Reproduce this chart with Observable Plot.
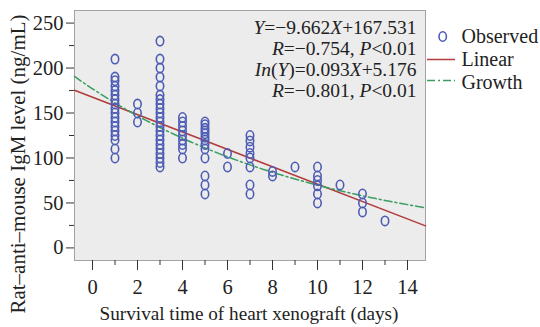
<!DOCTYPE html>
<html><head><meta charset="utf-8">
<script src="https://cdn.jsdelivr.net/npm/d3@7"></script>
<script src="https://cdn.jsdelivr.net/npm/@observablehq/plot@0.6"></script>
<style>body{margin:0;background:#fff} #chart svg{display:block}</style>
</head><body><div id="chart"></div>
<script>
// ---- data ----
const survivalDays = [1,2,3,4,5,6,7,8,9,10,11,12,13];
const igmByDay = [
  [210,190,186,180,175,170,165,160,155,150,145,140,135,130,125,120,110,100],
  [160,150,140],
  [230,210,200,190,180,170,165,160,155,150,145,140,135,130,125,120,115,110,105,100,95,90],
  [145,140,135,130,125,120,115,110,100],
  [140,137,133,130,127,123,120,115,110,100,80,70,60],
  [105,90],
  [125,119,112,105,100,90,70,60],
  [85,80],
  [90],
  [90,80,75,69,60,50],
  [70],
  [60,50,40],
  [30]
];
const linearCoef = [-9.662, 167.531];   // Y = a X + b
const growthCoef = [-0.093, 5.176];     // ln(Y) = a X + b
const xTicks = [0,2,4,6,8,10,12,14];
const xMinorTicks = [1,3,5,7,9,11,13];
const yTicks = [0,50,100,150,200,250];
const yMinorTicks = [25,75,125,175,225];
const xDomain = [-0.8, 14.8];
const yDomain = [-14, 264];
const xLabel = "Survival time of heart xenograft (days)";
const yLabel = "Rat\u2013anti\u2013mouse IgM level (ng/mL)";
const legendLabels = ["Observed", "Linear", "Growth"];
const annotationLines = [
  [["Y",1],["=\u22129.662",0],["X",1],["+167.531",0]],
  [["R",1],["=\u22120.754, ",0],["P",1],["<0.01",0]],
  [["In",1],["(",0],["Y",1],[")=0.093",0],["X",1],["+5.176",0]],
  [["R",1],["=\u22120.801, ",0],["P",1],["<0.01",0]]
];

// ---- derived tables ----
const observed = survivalDays.flatMap((d, i) => igmByDay[i].map(v => ({day: d, igm: v})));
const linearLine = xDomain.map(x => ({x, y: linearCoef[0] * x + linearCoef[1]}));
const growthXs = d3.range(xDomain[0], xDomain[1] + 1e-9, 0.2);
const growthLine = growthXs.map(x => ({x, y: Math.exp(growthCoef[0] * x + growthCoef[1])}));

const BLUE = "#4d5cb4", RED = "#b23b3b", GREEN = "#3a9e60";
const FONT = "'Liberation Serif', 'Times New Roman', serif";
const K = 0.5523;
function ellipsePath(ctx, rx, ry) {
  ctx.moveTo(0, -ry);
  ctx.bezierCurveTo(K*rx, -ry, rx, -K*ry, rx, 0);
  ctx.bezierCurveTo(rx, K*ry, K*rx, ry, 0, ry);
  ctx.bezierCurveTo(-K*rx, ry, -rx, K*ry, -rx, 0);
  ctx.bezierCurveTo(-rx, -K*ry, -K*rx, -ry, 0, -ry);
  ctx.closePath();
}
const ovalSymbol = {draw(ctx) { ellipsePath(ctx, 3.7, 4.7); }};

const plot = Plot.plot({
  width: 540, height: 327,
  marginLeft: 74, marginRight: 115, marginTop: 10, marginBottom: 67,
  style: {fontFamily: FONT, fontSize: "20.5px", color: "#222", background: "#fff"},
  x: {domain: xDomain, label: null},
  y: {domain: yDomain, label: null},
  marks: [
    Plot.frame({fill: "#ececec", stroke: "#a3a3a3", strokeWidth: 1}),
    Plot.axisY(yMinorTicks, {tickSize: 5, tickFormat: () => "", stroke: "#333"}),
    Plot.axisY(yTicks, {tickSize: 8, tickPadding: 3, stroke: "#333", fill: "#222"}),
    Plot.axisX(xMinorTicks, {tickSize: 5, tickFormat: () => "", stroke: "#333"}),
    Plot.axisX(xTicks, {tickSize: 10, tickPadding: 9, stroke: "#333", fill: "#222"}),
    Plot.line(linearLine, {x: "x", y: "y", stroke: RED, strokeWidth: 1.5}),
    Plot.line(growthLine, {x: "x", y: "y", stroke: GREEN, strokeWidth: 1.5, strokeDasharray: "8,3,2,3"}),
    Plot.dot(observed, {x: "day", y: "igm", symbol: ovalSymbol, r: 4, stroke: BLUE, strokeWidth: 1.6, fill: "none"})
  ]
});
document.getElementById("chart").appendChild(plot);

const svg = d3.select(plot);
// axis titles
svg.append("text").attr("x", 249).attr("y", 320).attr("text-anchor", "middle")
  .attr("font-family", FONT).attr("font-size", 19.2).attr("fill", "#222").text(xLabel);
svg.append("text").attr("transform", "translate(25,164) rotate(-90)").attr("text-anchor", "middle")
  .attr("font-family", FONT).attr("font-size", 21).attr("fill", "#222").text(yLabel);
// annotation
const ann = svg.append("g").attr("font-family", FONT).attr("font-size", 19.5).attr("fill", "#222");
const annBase = [33.5, 54.5, 75.5, 96.5];
annotationLines.forEach((segs, i) => {
  const t = ann.append("text").attr("x", 416.5).attr("y", annBase[i]).attr("text-anchor", "end");
  segs.forEach(([s, it]) => t.append("tspan").attr("font-style", it ? "italic" : "normal").text(s));
});
// legend
const lg = svg.append("g").attr("font-family", FONT).attr("font-size", 20).attr("fill", "#222");
const oval = d3.path(); ellipsePath(oval, 3.7, 4.7);
lg.append("path").attr("d", oval.toString()).attr("transform", "translate(442.7,36.5)")
  .attr("fill", "none").attr("stroke", BLUE).attr("stroke-width", 1.6);
lg.append("line").attr("x1", 427).attr("x2", 455).attr("y1", 59.5).attr("y2", 59.5).attr("stroke", RED).attr("stroke-width", 1.5);
lg.append("line").attr("x1", 427).attr("x2", 455).attr("y1", 80.5).attr("y2", 80.5).attr("stroke", GREEN).attr("stroke-width", 1.5).attr("stroke-dasharray", "8,3,2,3");
[43, 66, 89].forEach((y, i) => lg.append("text").attr("x", 461.5).attr("y", y).attr("text-anchor", "start").text(legendLabels[i]));
</script>
</body></html>
